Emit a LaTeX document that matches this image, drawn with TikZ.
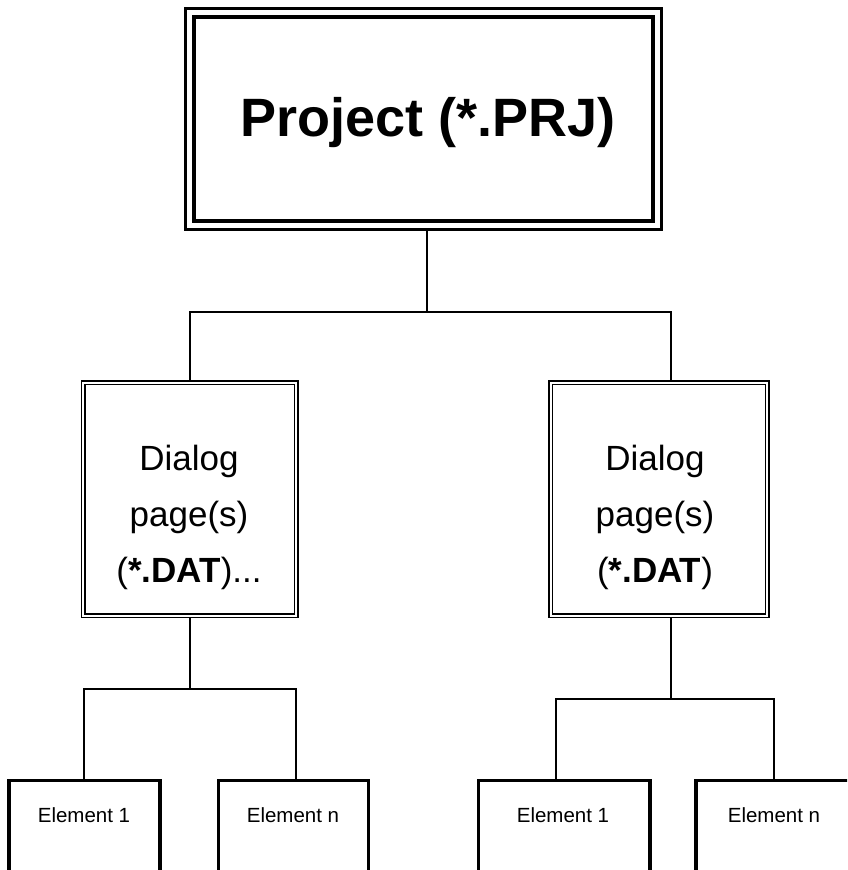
\documentclass[tikz,border=0pt]{standalone}
\usepackage{fontspec}
\setmainfont{Liberation Sans}
\usetikzlibrary{positioning}

\begin{document}
\begin{tikzpicture}[x=1pt, y=-1pt,
    conn/.style={line width=2pt},
    prjbox/.style={draw, double, line width=3.5pt, double distance=5pt, outer sep=6pt, inner sep=0pt, minimum width=467.75pt, minimum height=212.5pt},
    dlgbox/.style={draw, double, line width=1.8pt, double distance=1.8pt, outer sep=2.7pt, inner sep=0pt, minimum height=233pt},
    dlgtext/.style={anchor=north, align=center, inner sep=0pt, font=\fontsize{35}{56}\selectfont},
    elbox/.style={draw, line width=3.3pt, outer sep=1.65pt, inner sep=0pt, anchor=north, minimum height=140pt},
    eltext/.style={inner sep=0pt, font=\fontsize{20.5}{24}\selectfont}]
    \useasboundingbox (0,0) rectangle (847,870);
    \clip (0,0) rectangle (847,870);
    % boxes
    \node[prjbox] (prj) at (423.6,119) {};
    \node[inner sep=0pt, font=\bfseries\fontsize{54}{64}\selectfont] (prjtxt) at (428,123) {Project (*.PRJ)};
    \node[dlgbox, minimum width=213pt] (dlgL) at (189.75,499.25) {};
    \node[dlgbox, minimum width=216.5pt] (dlgR) at (659,499.25) {};
    \node[dlgtext] (dlgLtxt) at (189,444.5) {Dialog\\page(s)\\(\textbf{*.DAT})...};
    \node[dlgtext] (dlgRtxt) at (655,444.5) {Dialog\\page(s)\\(\textbf{*.DAT})};
    \node[elbox, minimum width=151pt] (elA) at (84.5,779) {};
    \node[elbox, minimum width=150pt] (elB) at (293.5,779) {};
    \node[elbox, minimum width=171.5pt] (elC) at (564.25,779) {};
    \node[elbox, minimum width=157pt] (elD) at (774.5,779) {};
    \node[eltext] (elAtxt) at (84,815) {Element 1};
    \node[eltext] (elBtxt) at (293,815) {Element n};
    \node[eltext] (elCtxt) at (563,815) {Element 1};
    \node[eltext] (elDtxt) at (774,815) {Element n};
    % connectors
    \coordinate (t0) at (427,312);
    \coordinate (tL) at (190,312);
    \coordinate (tR) at (671,312);
    \draw[conn] (t0 |- prj.south) -- (t0);
    \draw[conn] (tL |- dlgL.north) -- (tL) -- (tR) -- (tR |- dlgR.north);
    \coordinate (bL) at (190,689);
    \coordinate (bL1) at (84,689);
    \coordinate (bL2) at (296,689);
    \draw[conn] (bL |- dlgL.south) -- (bL);
    \draw[conn] (bL1 |- elA.north) -- (bL1) -- (bL2) -- (bL2 |- elB.north);
    \coordinate (bR) at (671,699);
    \coordinate (bR1) at (556,699);
    \coordinate (bR2) at (774,699);
    \draw[conn] (bR |- dlgR.south) -- (bR);
    \draw[conn] (bR1 |- elC.north) -- (bR1) -- (bR2) -- (bR2 |- elD.north);
\end{tikzpicture}
\end{document}
